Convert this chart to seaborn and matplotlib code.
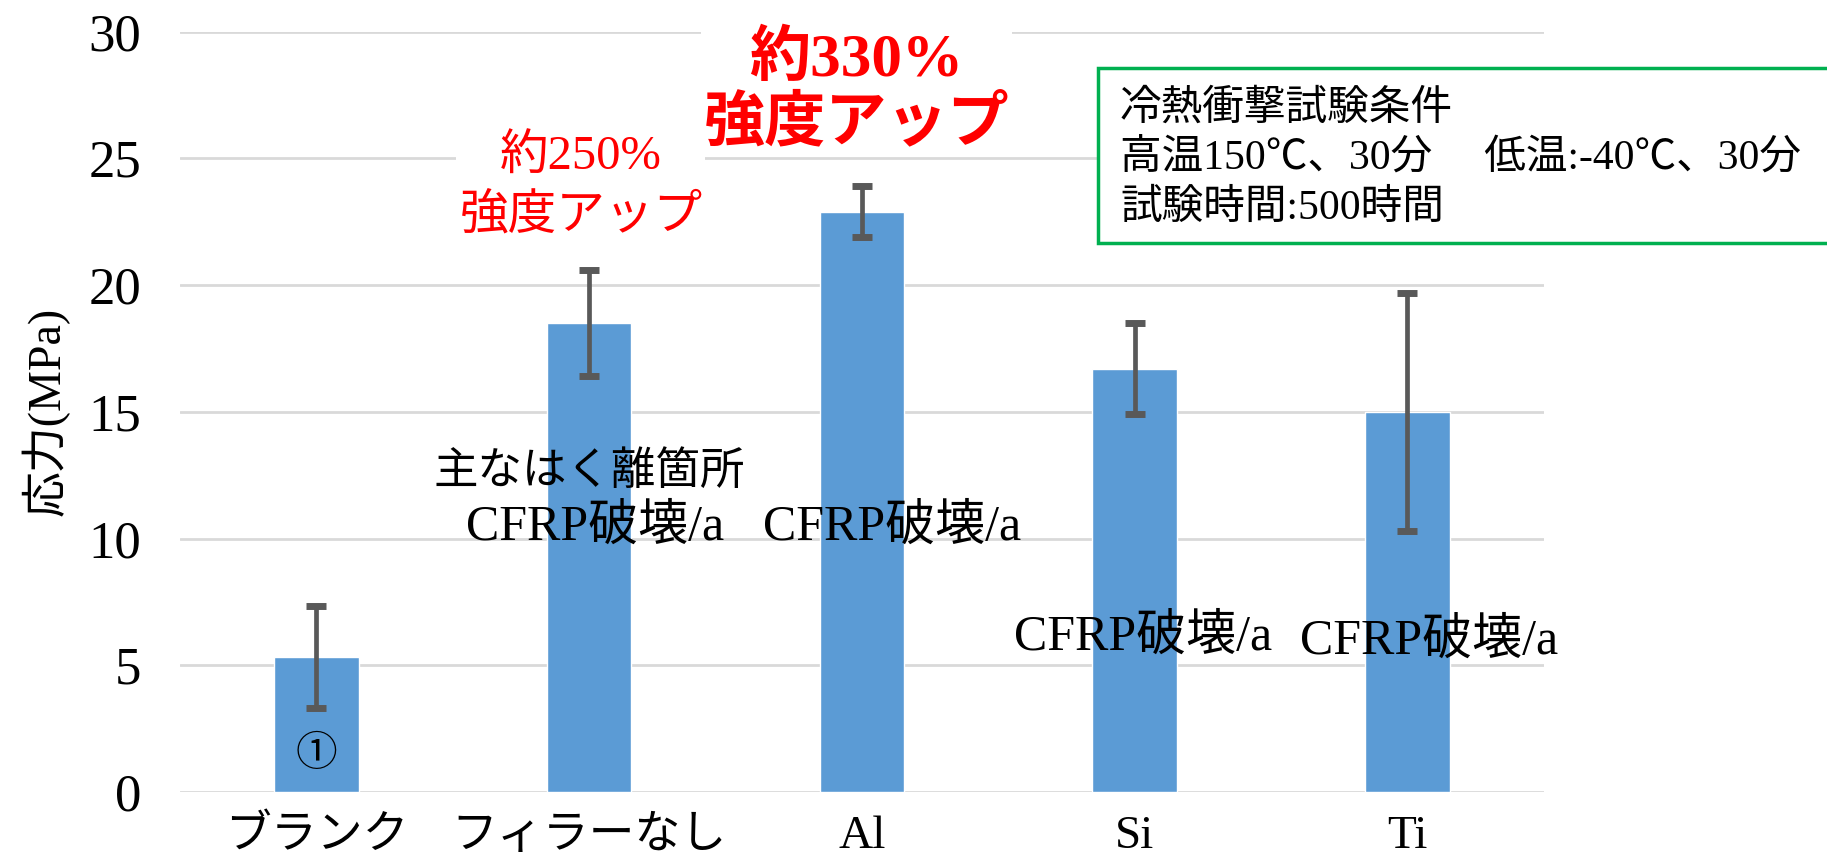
import matplotlib
matplotlib.use("Agg")
import matplotlib.pyplot as plt
import seaborn as sns
import pandas as pd
from matplotlib.patches import Rectangle

# data
categories = ['ブランク', 'フィラーなし', 'Al', 'Si', 'Ti']
stress = [5.33, 18.5, 22.9, 16.7, 15.0]
stress_err = [2.0, 2.1, 1.0, 1.8, 4.7]
notes = ['①', '主なはく離箇所', 'CFRP破壊/a', 'CFRP破壊/a', 'CFRP破壊/a', 'CFRP破壊/a']

sns.set_theme(style="white")
plt.rcParams['font.family'] = ['Liberation Serif', 'Noto Sans CJK JP']
plt.rcParams['axes.unicode_minus'] = False
plt.rcParams['text.color'] = 'black'
plt.rcParams['axes.labelcolor'] = 'black'
plt.rcParams['xtick.color'] = 'black'
plt.rcParams['ytick.color'] = 'black'

df = pd.DataFrame({'cat': categories, 'val': stress, 'err': stress_err})

fig = plt.figure(figsize=(18.27, 8.61), dpi=100)
ax = fig.add_axes([0.0985, 0.080, 0.7465, 0.8834])

sns.barplot(data=df, x='cat', y='val', order=categories, color='#5B9BD5',
            saturation=1, width=0.31, errorbar=None, ax=ax, zorder=2)
ax.errorbar(range(len(categories)), df['val'], yerr=df['err'], fmt='none',
            ecolor='#595959', elinewidth=3.4, capsize=7.5, capthick=5, zorder=3)

ax.set_xlim(-0.5, 4.5)
ax.set_ylim(0, 30)
ax.set_yticks(range(0, 31, 5))
ax.yaxis.grid(True, color='#D9D9D9', linewidth=2, zorder=0)
ax.set_axisbelow(True)
for s in ax.spines.values():
    s.set_visible(False)
ax.tick_params(axis='y', labelsize=38, length=0, pad=28, labelcolor='black')
ax.tick_params(axis='x', labelsize=33, length=0, pad=17, labelcolor='black')
for lbl in ax.get_xticklabels():
    if lbl.get_text() in ('Al', 'Si', 'Ti'):
        lbl.set_fontsize(34)
ax.set_xlabel('')
ax.set_ylabel('応力(MPa)', fontsize=33, color='black')
ax.yaxis.set_label_coords(-0.081, 0.50)

# notes on the bars
ax.text(0, 1.45, notes[0], ha='center', va='center', fontsize=30, zorder=4)
ax.text(1.0, 12.62, notes[1], ha='center', va='center', fontsize=32, zorder=4)
ax.text(1.02, 10.45, notes[2], ha='center', va='center', fontsize=36, zorder=4)
ax.text(2.11, 10.45, notes[3], ha='center', va='center', fontsize=36, zorder=4)
ax.text(3.03, 6.1, notes[4], ha='center', va='center', fontsize=36, zorder=4)
ax.text(4.08, 5.95, notes[5], ha='center', va='center', fontsize=36, zorder=4)

# red callouts
ax.text(0.97, 23.85, '約250%\n強度アップ', ha='center', va='center', color='#FF0000',
        fontsize=35, linespacing=1.4, zorder=5,
        bbox=dict(facecolor='white', edgecolor='none', pad=2))
ax.text(1.98, 27.6, '約330%\n強度アップ', ha='center', va='center', color='#FF0000',
        fontsize=44, fontweight='bold', linespacing=1.15, zorder=5, clip_on=False,
        bbox=dict(facecolor='white', edgecolor='none', pad=2))

# test condition box
fig.patches.append(Rectangle((0.601, 0.7178), 0.41, 0.2033, transform=fig.transFigure,
                             facecolor='white', edgecolor='#00B050', linewidth=2.5,
                             zorder=6))
box_lines = ['冷熱衝撃試験条件', '高温150℃、30分　 低温:-40℃、30分', '試験時間:500時間']
for yy, line in zip([0.873, 0.8165, 0.758], box_lines):
    fig.text(0.613, yy, line, ha='left', va='center', fontsize=30, zorder=7)

fig.savefig('out.png', dpi=100)
